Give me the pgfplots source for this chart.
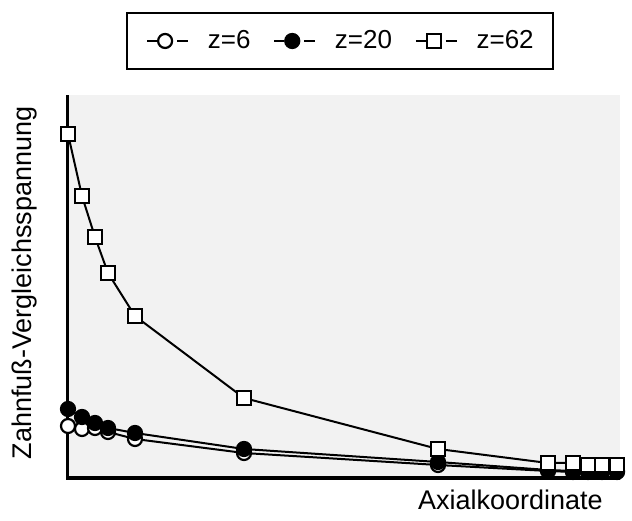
\documentclass[border=0pt]{standalone}
\usepackage{fontspec}
\setmainfont{Liberation Sans}
\usepackage{pgfplots}
\pgfplotsset{compat=1.18}

\begin{document}
\fontsize{27}{31}\selectfont
\begin{tikzpicture}
\useasboundingbox (0,0) rectangle (632pt,521pt);
\begin{axis}[
    at={(68pt,43pt)}, anchor=south west,
    scale only axis,
    width=552pt, height=383pt,
    xmin=0, xmax=552, ymin=0, ymax=383,
    axis x line=bottom, axis y line=left,
    x axis line style={-, line width=4pt, shorten <=-1.5pt},
    y axis line style={-, line width=3pt},
    axis background/.style={fill=gray!10},
    xtick=\empty, ytick=\empty,
    clip=false,
    xlabel={Axialkoordinate},
    ylabel={Zahnfuß-Vergleichsspannung},
    xlabel style={at={(axis description cs:0.969,-0.0574)}, anchor=east, inner sep=0pt},
    ylabel style={at={(axis description cs:-0.078,0.509)}, anchor=center, inner sep=0pt},
    label style={font=\fontsize{27}{31}\selectfont},
    every axis plot/.append style={black, line width=2pt},
    legend columns=3,
    legend style={at={(axis description cs:0.4928,1.141)}, anchor=center,
        draw=black, line width=2pt, fill=white,
        font=\fontsize{26}{30}\selectfont,
        inner xsep=19pt, inner ysep=17pt,
        nodes={inner sep=0pt},
        /tikz/every odd column/.append style={column sep=19pt},
        /tikz/every even column/.append style={column sep=23pt}},
    legend image code/.code={
        \draw[#1, line width=1.5pt] (0pt,0pt) -- (10pt,0pt);
        \draw[#1, line width=1.5pt] (30pt,0pt) -- (41pt,0pt);
        \draw[#1] plot coordinates {(18pt,0pt)};
    },
]
\addplot[mark=*, mark size=7pt, mark options={fill=white, draw=black, line width=2.2pt, solid}] coordinates {
    (0,52) (14,49) (27,50) (40,46) (67,39) (176,25) (370,13) (480,7) (505,6) (520,6) (534,6) (549,6)
};
\addplot[mark=*, mark size=7pt, mark options={fill=black, draw=black, line width=2.2pt, solid}] coordinates {
    (0,69) (14,61) (27,55) (40,50) (67,45) (176,29) (370,16) (480,8) (505,7) (520,7) (534,7) (549,7)
};
\addplot[mark=square*, mark size=7pt, mark options={fill=white, draw=black, line width=2.2pt, solid}] coordinates {
    (0,344) (14,282) (27,241) (40,205) (67,162) (176,80) (370,29) (480,15) (505,15) (520,13) (534,13) (549,13)
};
\legend{z=6, z=20, z=62}
\end{axis}
\end{tikzpicture}
\end{document}
